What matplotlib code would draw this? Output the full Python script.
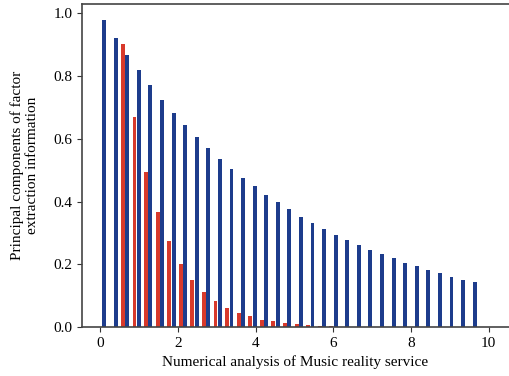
import matplotlib
matplotlib.use("Agg")
import matplotlib.pyplot as plt
import numpy as np

# blue series: 33 bars
blue_x = [0.1 + 0.298 * k for k in range(33)]
blue_y = [0.978, 0.921, 0.868, 0.818, 0.770, 0.725, 0.683, 0.643, 0.606, 0.571,
          0.537, 0.505, 0.476, 0.449, 0.421, 0.398, 0.376, 0.351, 0.332, 0.314,
          0.295, 0.277, 0.261, 0.245, 0.232, 0.219, 0.205, 0.194, 0.182, 0.173,
          0.161, 0.151, 0.143]

# red series starts next to the third blue bar
red_x = [0.584 + 0.298 * k for k in range(19)]
red_y = [0.903, 0.670, 0.495, 0.367, 0.274, 0.202, 0.150, 0.111, 0.082, 0.062,
         0.045, 0.034, 0.023, 0.018, 0.014, 0.010, 0.006, 0.004, 0.003]

plt.rcParams['font.family'] = ['Liberation Serif', 'DejaVu Serif']

fig = plt.figure(figsize=(5.09, 3.76), dpi=100)
ax = fig.add_axes([0.161, 0.130, 0.839, 0.859])

ax.bar(red_x, red_y, width=0.1, color='#d8392b')
ax.bar(blue_x, blue_y, width=0.1, color='#1d3c8c')

ax.set_xlim(-0.47, 10.52)
ax.set_ylim(0, 1.029)
ax.set_xticks([0, 2, 4, 6, 8, 10])
ax.set_yticks([0.0, 0.2, 0.4, 0.6, 0.8, 1.0])
ax.yaxis.set_major_formatter(matplotlib.ticker.FormatStrFormatter('%.1f'))
ax.tick_params(labelsize=11, length=3.5, color='#333333')

ax.spines['right'].set_visible(False)
for s in ['left', 'bottom', 'top']:
    ax.spines[s].set_color('#444444')
    ax.spines[s].set_linewidth(1.2)

ax.set_xlabel("Numerical analysis of Music reality service", fontsize=11)
ax.set_ylabel("Principal components of factor\nextraction information", fontsize=11,
              linespacing=1.2, labelpad=10)

plt.savefig("out.png", dpi=100)
